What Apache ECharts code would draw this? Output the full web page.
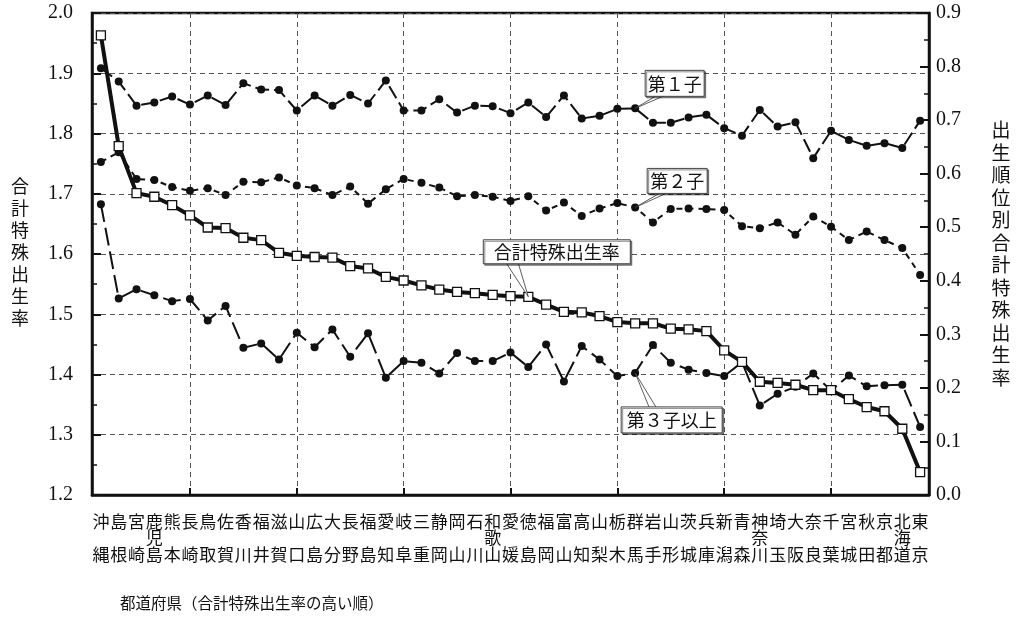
<!DOCTYPE html>
<html>
<head>
<meta charset="utf-8">
<script src="https://cdn.jsdelivr.net/npm/echarts@6/dist/echarts.min.js"></script>
<style>
  html, body { margin: 0; padding: 0; background: #fff; }
  #chart { width: 1021px; height: 624px; }
</style>
</head>
<body>
<div id="chart"></div>
<script>
// Prefectures ordered by total fertility rate (highest first)
const prefectures = ['沖縄','島根','宮崎','鹿児島','熊本','長崎','鳥取','佐賀','香川','福井',
  '滋賀','山口','広島','大分','長野','福島','愛知','岐阜','三重','静岡',
  '岡山','石川','和歌山','愛媛','徳島','福岡','富山','高知','山梨','栃木',
  '群馬','岩手','山形','茨城','兵庫','新潟','青森','神奈川','埼玉','大阪',
  '奈良','千葉','宮城','秋田','京都','北海道','東京'];

// Total fertility rate (left axis)
const tfr = [1.963,1.779,1.701,1.695,1.681,1.664,1.644,1.643,1.627,1.623,
  1.602,1.597,1.595,1.594,1.580,1.576,1.562,1.556,1.548,1.541,
  1.537,1.535,1.532,1.530,1.529,1.516,1.504,1.503,1.497,1.487,
  1.485,1.485,1.476,1.475,1.472,1.440,1.421,1.388,1.386,1.383,
  1.374,1.374,1.359,1.346,1.339,1.310,1.238];

// Birth-order-specific rates (right axis)
const firstChild = [0.797,0.772,0.727,0.733,0.744,0.729,0.746,0.728,0.769,0.757,
  0.756,0.718,0.746,0.727,0.747,0.731,0.774,0.718,0.718,0.739,
  0.714,0.727,0.726,0.713,0.733,0.706,0.746,0.703,0.708,0.721,
  0.722,0.695,0.695,0.705,0.710,0.685,0.671,0.719,0.688,0.696,
  0.629,0.680,0.663,0.652,0.657,0.648,0.699];
const secondChild = [0.622,0.640,0.590,0.588,0.575,0.568,0.573,0.560,0.585,0.584,
  0.593,0.578,0.573,0.560,0.576,0.544,0.571,0.590,0.583,0.574,
  0.558,0.560,0.557,0.549,0.558,0.531,0.546,0.521,0.535,0.545,
  0.537,0.509,0.534,0.535,0.534,0.532,0.502,0.498,0.509,0.486,
  0.520,0.501,0.476,0.492,0.476,0.461,0.411];
const thirdPlus = [0.543,0.367,0.384,0.373,0.362,0.366,0.326,0.353,0.275,0.283,
  0.253,0.303,0.276,0.309,0.258,0.302,0.219,0.250,0.247,0.227,
  0.265,0.250,0.250,0.266,0.239,0.281,0.212,0.278,0.253,0.222,
  0.228,0.280,0.247,0.234,0.228,0.222,0.248,0.167,0.189,0.202,
  0.227,0.195,0.223,0.203,0.205,0.206,0.127];

const leftRange = [1.2, 2.0];
const rightRange = [0.0, 0.9];

const serif = '"Liberation Serif", "DejaVu Serif", serif';
const cjk = '"Noto Sans CJK JP", "Noto Sans CJK SC", sans-serif';

// Category labels are stacked vertically: first char / middle char / last char
function stackName(name) {
  const c = Array.from(name);
  const mid = c.length === 3 ? c[1] : '\u3000';
  return c[0] + '\n' + mid + '\n' + c[c.length - 1];
}
const everySixth = (i) => i % 6 === 5;

const chart = echarts.init(document.getElementById('chart'), null, { renderer: 'canvas' });

const dotSeries = (name, data, dash) => ({
  name, type: 'line', yAxisIndex: 1, data,
  symbol: 'circle', symbolSize: 8,
  itemStyle: { color: '#111' },
  lineStyle: { color: '#111', width: 2, type: dash },
  z: 3
});

chart.setOption({
  animation: false,
  backgroundColor: '#fff',
  grid: { left: 92, right: 92, top: 13, bottom: 129, show: true, borderColor: '#111', borderWidth: 2.5 },
  xAxis: {
    type: 'category', data: prefectures, boundaryGap: true,
    axisLine: { lineStyle: { color: '#111', width: 2.5 } },
    axisTick: { show: true, inside: true, alignWithLabel: true, interval: everySixth, length: 7,
      lineStyle: { color: '#111', width: 2 } },
    axisLabel: { interval: 0, formatter: stackName, fontFamily: cjk, fontSize: 17,
      lineHeight: 16.5, color: '#111', margin: 18 },
    splitLine: { show: true, alignWithLabel: true, interval: everySixth,
      lineStyle: { type: [5, 4], color: '#555', width: 1 } }
  },
  yAxis: [
    {
      type: 'value', min: leftRange[0], max: leftRange[1], interval: 0.1,
      axisLine: { show: true, lineStyle: { color: '#111', width: 2.5 } },
      axisTick: { show: true, inside: true, length: 9, lineStyle: { color: '#111', width: 2 } },
      minorTick: { show: true, splitNumber: 2, length: 5, lineStyle: { color: '#111', width: 1.5 } },
      axisLabel: { formatter: (v) => v.toFixed(1), fontFamily: serif, fontSize: 20, color: '#111', margin: 19 },
      splitLine: { show: true, lineStyle: { type: [5, 4], color: '#555', width: 1 } }
    },
    {
      type: 'value', position: 'right', min: rightRange[0], max: rightRange[1], interval: 0.1,
      axisLine: { show: true, lineStyle: { color: '#111', width: 2.5 } },
      axisTick: { show: true, inside: true, length: 9, lineStyle: { color: '#111', width: 2 } },
      minorTick: { show: true, splitNumber: 2, length: 5, lineStyle: { color: '#111', width: 1.5 } },
      axisLabel: { formatter: (v) => v.toFixed(1), fontFamily: serif, fontSize: 20, color: '#111', margin: 7 },
      splitLine: { show: false }
    }
  ],
  series: [
    dotSeries('第1子', firstChild, [14, 5]),
    dotSeries('第2子', secondChild, [6, 5]),
    dotSeries('第3子以上', thirdPlus, [18, 6]),
    {
      name: '合計特殊出生率', type: 'line', yAxisIndex: 0, data: tfr,
      symbol: 'rect', symbolSize: 9,
      itemStyle: { color: '#fff', borderColor: '#111', borderWidth: 1.3 },
      lineStyle: { color: '#111', width: 4 },
      z: 5
    }
  ]
});

// Axis titles
const titles = [
  { type: 'text', z: 50, style: { text: Array.from('合計特殊出生率').join('\n'), x: 20, y: 252,
      align: 'center', verticalAlign: 'middle', font: '18px ' + cjk, lineHeight: 22, fill: '#111' } },
  { type: 'text', z: 50, style: { text: Array.from('出生順位別合計特殊出生率').join('\n'), x: 1001, y: 254,
      align: 'center', verticalAlign: 'middle', font: '19px ' + cjk, lineHeight: 22.5, fill: '#111' } },
  { type: 'text', z: 50, style: { text: '都道府県（合計特殊出生率の高い順）', x: 120, y: 603,
      align: 'left', verticalAlign: 'middle', font: '15.5px ' + cjk, fill: '#111' } }
];

// Callout boxes anchored on data points: box offset/size and the wedge base on the box edge
const callouts = [
  { text: '第１子', series: 0, idx: 30, bx: 10, by: -38, w: 59, h: 26, base: [11, 19], edge: 'bottom' },
  { text: '第２子', series: 1, idx: 30, bx: 12, by: -39, w: 60, h: 25, base: [13, 20], edge: 'bottom' },
  { text: '合計特殊出生率', series: 3, idx: 24, bx: -45, by: -57, w: 147, h: 24, base: [23, 35], edge: 'bottom' },
  { text: '第３子以上', series: 2, idx: 30, bx: -14, by: 34, w: 101, h: 26, base: [28, 35], edge: 'top' }
];
const seriesData = [firstChild, secondChild, thirdPlus, tfr];
const calloutGraphics = [];
callouts.forEach((c) => {
  const p = chart.convertToPixel({ seriesIndex: c.series }, [c.idx, seriesData[c.series][c.idx]]);
  const left = p[0] + c.bx, top = p[1] + c.by;
  const ey = c.edge === 'bottom' ? top + c.h - 0.5 : top + 0.5;
  calloutGraphics.push({
    type: 'polygon', z: 60,
    shape: { points: [[left + c.base[0], ey], [left + c.base[1], ey], [p[0], p[1]]] },
    style: { fill: '#fff', stroke: '#333', lineWidth: 0.8 }
  });
  calloutGraphics.push({
    type: 'rect', z: 61,
    shape: { x: left, y: top, width: c.w, height: c.h },
    style: { fill: '#fff', stroke: '#444', lineWidth: 1,
      shadowColor: 'rgba(0,0,0,0.45)', shadowOffsetX: 1.5, shadowOffsetY: 1.5, shadowBlur: 0 }
  });
  calloutGraphics.push({
    type: 'text', z: 62,
    style: { text: c.text, x: left + c.w / 2, y: top + c.h / 2 + 0.5, align: 'center',
      verticalAlign: 'middle', font: '18px ' + cjk, fill: '#111' }
  });
});

chart.setOption({ graphic: titles.concat(calloutGraphics) });
</script>
</body>
</html>
